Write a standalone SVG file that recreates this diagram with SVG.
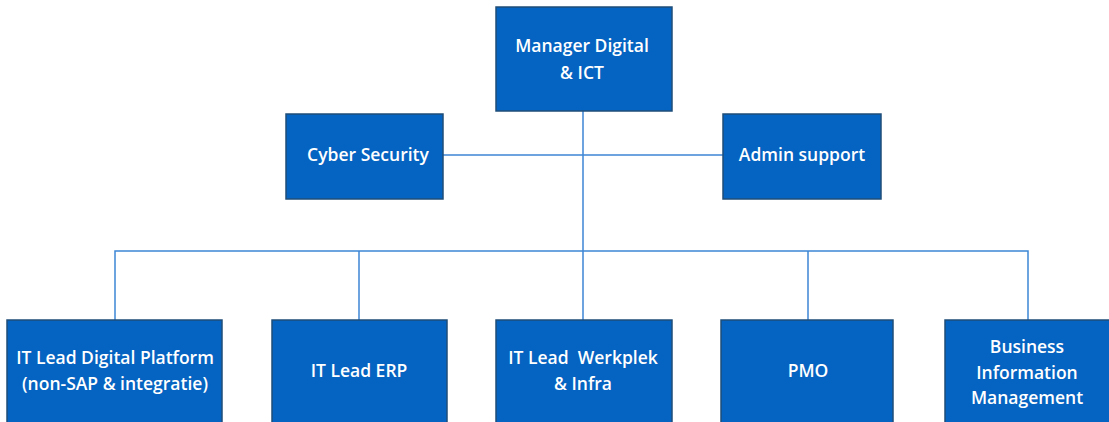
<svg xmlns="http://www.w3.org/2000/svg" width="1109" height="422" viewBox="0 0 1109 422">
<style>
.box{fill:#0563C1;stroke:#1F4E79;stroke-width:1.5}
.t{font-family:"Open Sans","Liberation Sans",sans-serif;font-size:17.5px;font-weight:600;fill:#FFFFFF;text-anchor:middle}
.c{stroke:#3D86D6;stroke-width:1.5;fill:none}
</style>
<rect width="1109" height="422" fill="#FFFFFF"/>
<g id="connectors">
<path class="c" d="M583,111 V251"/>
<path class="c" d="M443,155 H723"/>
<path class="c" d="M115,320 V251 H1028 V320"/>
<path class="c" d="M359,251 V320"/>
<path class="c" d="M583,251 V320"/>
<path class="c" d="M808,251 V320"/>
</g>
<g id="manager">
<rect class="box" x="496" y="7" width="176" height="104"/>
<text class="t" x="582" y="52">Manager Digital</text>
<text class="t" x="582" y="79">&amp; ICT</text>
</g>
<g id="cyber">
<rect class="box" x="286" y="114" width="157" height="85"/>
<text class="t" x="368" y="161">Cyber Security</text>
</g>
<g id="admin">
<rect class="box" x="723" y="114" width="158" height="85"/>
<text class="t" x="802" y="161">Admin support</text>
</g>
<g id="digital-platform">
<rect class="box" x="7" y="320" width="215" height="110"/>
<text class="t" x="115" y="364">IT Lead Digital Platform</text>
<text class="t" x="115" y="390">(non-SAP &amp; integratie)</text>
</g>
<g id="erp">
<rect class="box" x="272" y="320" width="175" height="110"/>
<text class="t" x="359" y="377">IT Lead ERP</text>
</g>
<g id="werkplek">
<rect class="box" x="496" y="320" width="176" height="110"/>
<text class="t" x="583" y="364" xml:space="preserve">IT Lead  Werkplek</text>
<text class="t" x="583" y="390">&amp; Infra</text>
</g>
<g id="pmo">
<rect class="box" x="721" y="320" width="172" height="110"/>
<text class="t" x="808" y="377">PMO</text>
</g>
<g id="bim">
<rect class="box" x="945" y="320" width="175" height="110"/>
<text class="t" x="1027" y="353">Business</text>
<text class="t" x="1027" y="379">Information</text>
<text class="t" x="1027" y="404">Management</text>
</g>
</svg>
